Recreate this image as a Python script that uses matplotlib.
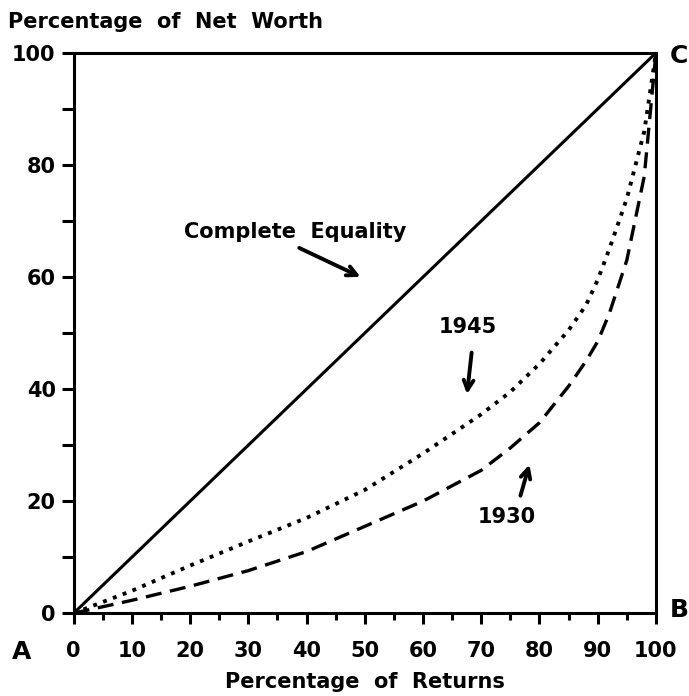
import numpy as np
import matplotlib
matplotlib.use("Agg")
import matplotlib.pyplot as plt

plt.rcParams['font.family'] = ['DejaVu Sans']
plt.rcParams['font.weight'] = 'bold'

# Lorenz curves
pct_returns = [0, 10, 20, 30, 40, 50, 60, 70, 75, 80, 85, 88, 90, 92, 95, 98, 100]
worth_1945 = [0, 4, 8.5, 12.8, 17, 22, 28.5, 35.5, 39.5, 44.5, 50.5, 55, 59.5, 65, 74, 86, 100]
worth_1930 = [0, 2.3, 4.8, 7.6, 11, 15.5, 20, 25.5, 29.5, 34, 40.5, 45, 48.5, 53.5, 63, 78, 100]
equality = [0, 100]

major_ticks = list(range(0, 101, 10))
minor_x = list(range(5, 100, 10))

fig = plt.figure(figsize=(6.89, 6.96), dpi=100)
ax = fig.add_axes([0.107, 0.119, 0.845, 0.805])

ax.plot(equality, equality, color='black', lw=2.2, solid_capstyle='butt')
ax.plot(pct_returns, worth_1945, color='black', lw=2.8, linestyle=(0, (1.0, 1.7)))
ax.plot(pct_returns, worth_1930, color='black', lw=2.4, linestyle=(0, (4.8, 2.6)))

ax.set_xlim(0, 100)
ax.set_ylim(0, 100)
for s in ax.spines.values():
    s.set_linewidth(2.2)

ax.set_xticks(major_ticks)
ax.set_xticks(minor_x, minor=True)
ax.set_yticks(major_ticks)
ax.set_yticklabels([str(v) if v % 20 == 0 else '' for v in major_ticks])
ax.tick_params(axis='x', which='major', direction='out', length=8, width=2.2,
               labelsize=15, pad=12)
ax.tick_params(axis='x', which='minor', direction='out', length=5, width=2.2)
ax.tick_params(axis='y', which='major', direction='out', length=9, width=2.2,
               labelsize=15, pad=4)

for lab in ax.get_xticklabels() + ax.get_yticklabels():
    lab.set_fontweight('bold')

ax.set_xlabel('Percentage  of  Returns', fontsize=15, fontweight='bold', labelpad=8)
fig.text(0.012, 0.968, 'Percentage  of  Net  Worth', fontsize=15,
         fontweight='bold', ha='left', va='center')

# corner letters
ax.text(-8.9, -7, 'A', fontsize=18, fontweight='bold', ha='center', va='center',
        clip_on=False)
ax.text(104, 0.5, 'B', fontsize=18, fontweight='bold', ha='center', va='center',
        clip_on=False)
ax.text(104, 99.5, 'C', fontsize=18, fontweight='bold', ha='center', va='center',
        clip_on=False)

arrow = dict(arrowstyle='->,head_length=0.7,head_width=0.35', lw=2.8, color='black')
ax.annotate('', xy=(49.7, 59.8), xytext=(38.3, 65.4), arrowprops=arrow)
ax.text(38.1, 68.0, 'Complete  Equality', fontsize=15, fontweight='bold',
        ha='center', va='center')
ax.annotate('', xy=(67.5, 38.6), xytext=(68.4, 47.0), arrowprops=arrow)
ax.text(67.7, 51.1, '1945', fontsize=15, fontweight='bold', ha='center', va='center')
ax.annotate('', xy=(78.4, 27.0), xytext=(76.6, 20.5), arrowprops=arrow)
ax.text(74.4, 17.1, '1930', fontsize=15, fontweight='bold', ha='center', va='center')

fig.savefig('out.png', dpi=100)
